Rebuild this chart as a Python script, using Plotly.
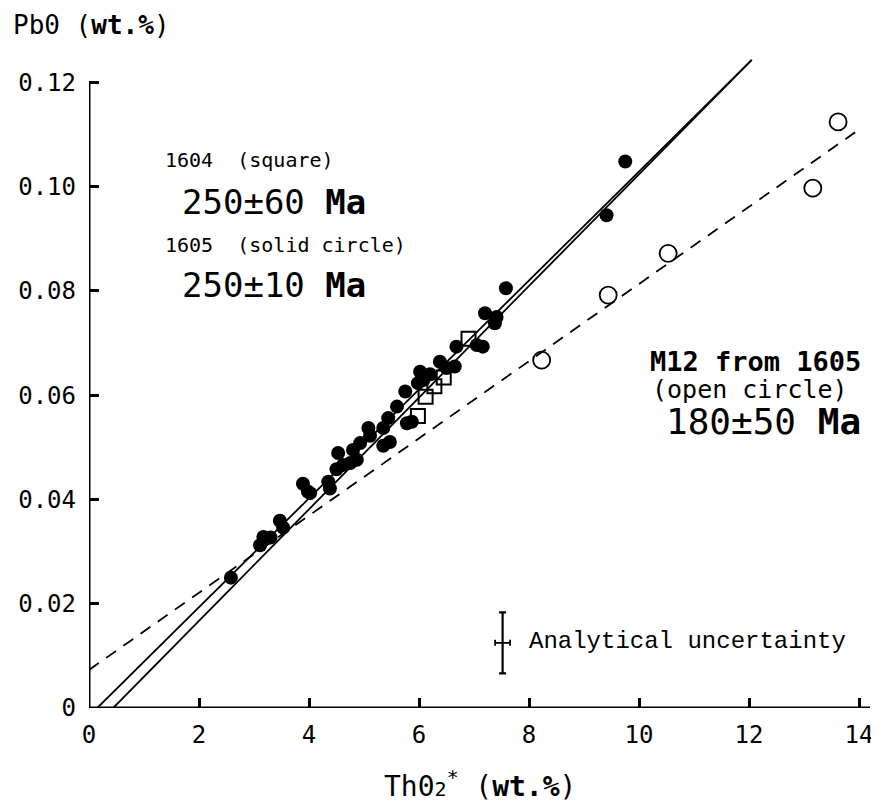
import plotly.graph_objects as go

# ---- data ----
sq_x = [5.98, 6.12, 6.28, 6.45, 6.90]
sq_y = [0.0560, 0.0597, 0.0617, 0.0634, 0.0708]

dot_x = [2.58, 3.11, 3.17, 3.30, 3.47, 3.53, 3.89, 3.98, 4.02, 4.35, 4.38, 4.50, 4.53,
         4.62, 4.75, 4.80, 4.87, 4.93, 5.08, 5.11, 5.35, 5.47, 5.35, 5.44, 5.60, 5.78,
         5.87, 5.75, 5.98, 6.02, 6.08, 6.20, 6.38, 6.50, 6.65, 6.68, 7.05, 7.16, 7.20,
         7.38, 7.41, 7.58, 9.41, 9.75]
dot_y = [0.0250, 0.0312, 0.0328, 0.0327, 0.0359, 0.0346, 0.0430, 0.0415, 0.0412, 0.0434,
         0.0421, 0.0458, 0.0489, 0.0466, 0.0470, 0.0495, 0.0476, 0.0508, 0.0537, 0.0522,
         0.0503, 0.0510, 0.0537, 0.0556, 0.0578, 0.0546, 0.0549, 0.0607, 0.0623, 0.0645,
         0.0629, 0.0640, 0.0664, 0.0652, 0.0655, 0.0693, 0.0696, 0.0693, 0.0757, 0.0738,
         0.0750, 0.0805, 0.0945, 0.1048]

open_x = [8.23, 9.44, 10.53, 13.16, 13.62]
open_y = [0.0667, 0.0792, 0.0872, 0.0997, 0.1124]

iso_a_x = [0.15, 12.05]
iso_a_y = [0.0, 0.1243]
iso_b_x = [0.44, 12.05]
iso_b_y = [0.0, 0.1243]
iso_m12_x = [0.0, 14.05]
iso_m12_y = [0.0073, 0.1113]

err_x, err_y = [7.52], [0.0125]
err_dx, err_dy = [0.136], [0.00585]

x_ticks = [0, 2, 4, 6, 8, 10, 12, 14]
y_ticks = [0, 0.02, 0.04, 0.06, 0.08, 0.10, 0.12]
y_tick_text = ["0", "0.02", "0.04", "0.06", "0.08", "0.10", "0.12"]

MONO = "DejaVu Sans Mono"
SERIF_MONO = "Liberation Mono"

fig = go.Figure()
line_style = dict(color="black", width=1.8)
fig.add_trace(go.Scatter(x=iso_a_x, y=iso_a_y, mode="lines", line=line_style, hoverinfo="skip"))
fig.add_trace(go.Scatter(x=iso_b_x, y=iso_b_y, mode="lines", line=line_style, hoverinfo="skip"))
fig.add_trace(go.Scatter(x=iso_m12_x, y=iso_m12_y, mode="lines",
                         line=dict(color="black", width=1.8, dash="12px,9px"), hoverinfo="skip"))
fig.add_trace(go.Scatter(x=sq_x, y=sq_y, mode="markers",
                         marker=dict(symbol="square-open", size=14, color="black", line=dict(width=2)),
                         cliponaxis=False))
fig.add_trace(go.Scatter(x=dot_x, y=dot_y, mode="markers",
                         marker=dict(symbol="circle", size=14, color="black"), cliponaxis=False))
fig.add_trace(go.Scatter(x=open_x, y=open_y, mode="markers",
                         marker=dict(symbol="circle-open", size=17, color="black", line=dict(width=1.8)),
                         cliponaxis=False))
# analytical uncertainty cross
fig.add_trace(go.Scatter(x=err_x, y=err_y, mode="markers", marker=dict(size=1, color="black"),
                         error_y=dict(type="data", array=err_dy, color="black", thickness=2.2, width=3.5)))
fig.add_trace(go.Scatter(x=err_x, y=err_y, mode="markers", marker=dict(size=1, color="black"),
                         error_x=dict(type="data", array=err_dx, color="black", thickness=1.8, width=3)))

# axis lines
fig.add_shape(type="line", x0=0, x1=0, y0=0, y1=0.12, xref="x", yref="y",
              line=dict(color="black", width=3))
fig.add_shape(type="line", x0=0, x1=14.2, y0=0, y1=0, xref="x", yref="y",
              line=dict(color="black", width=3))

def ann(text, x, y, size, xanchor="left", font=MONO, ref="data"):
    xr, yr = ("x", "y") if ref == "data" else ("paper", "paper")
    fig.add_annotation(text=text, x=x, y=y, xref=xr, yref=yr, showarrow=False,
                       xanchor=xanchor, yanchor="middle",
                       font=dict(family=font, size=size, color="black"))

ann("1604\u00a0\u00a0(square)", 1.345, 0.1051, 20)
ann("250±60\u00a0<b>Ma</b>", 1.66, 0.0970, 34)
ann("1605\u00a0\u00a0(solid\u00a0circle)", 1.345, 0.0888, 20)
ann("250±10\u00a0<b>Ma</b>", 1.66, 0.0811, 34)
ann("<b>M12\u00a0from\u00a01605</b>", 14.07, 0.0665, 27, xanchor="right")
ann("(open\u00a0circle)", 13.84, 0.0611, 25, xanchor="right")
ann("180±50\u00a0<b>Ma</b>", 14.07, 0.0550, 36, xanchor="right")
ann("Analytical\u00a0uncertainty", 7.97, 0.01266, 24, font=SERIF_MONO)
ann("Pb0\u00a0(<b>wt.%</b>)", -0.1, 1.040, 26, ref="paper")
ann("Th0<span style='font-size:20px'>2</span><sup>*</sup>\u00a0(<b>wt.%</b>)",
    0.5006, -0.117, 28, xanchor="center", ref="paper")

# the page body has an 8px margin, so the figure is 8px smaller than the window
fig.update_layout(
    width=871, height=797,
    margin=dict(l=81, r=9, t=43, b=97, autoexpand=False),
    paper_bgcolor="white", plot_bgcolor="white",
    showlegend=False,
    xaxis=dict(range=[0, 14.2], tickvals=x_ticks, ticks="inside", ticklen=10, tickwidth=3,
               tickcolor="black", showgrid=False, zeroline=False, showline=False,
               automargin=False, ticklabelstandoff=10,
               tickfont=dict(family=MONO, size=24, color="black")),
    yaxis=dict(range=[0, 0.126], tickvals=y_ticks, ticktext=y_tick_text, ticks="inside",
               ticklen=10, tickwidth=3, tickcolor="black", showgrid=False, zeroline=False,
               showline=False, automargin=False, ticklabelstandoff=12,
               tickfont=dict(family=MONO, size=24, color="black")),
)

fig.write_html("out.html")
